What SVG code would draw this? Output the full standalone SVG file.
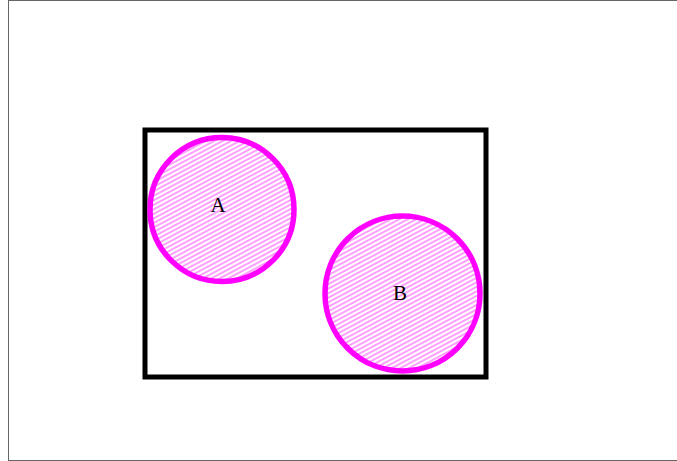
<svg xmlns="http://www.w3.org/2000/svg" width="677" height="461" viewBox="0 0 677 461">
<style>
.lbl{font-family:"Liberation Serif","DejaVu Serif",serif;font-size:21px;fill:#000;text-anchor:middle}
.circ{fill:url(#hatch);stroke:#ff00ff;stroke-width:5.5}
</style>
<defs>
<pattern id="hatch" patternUnits="userSpaceOnUse" width="4" height="4" patternTransform="rotate(-28)">
<rect width="4" height="4" fill="#fff"/>
<line x1="0" y1="1" x2="4" y2="1" stroke="#ff00ff" stroke-width="1" stroke-opacity="0.75"/>
</pattern>
</defs>
<rect x="8.5" y="0.5" width="700" height="460" fill="#fff" stroke="#666" stroke-width="1"/>
<g id="box"><rect x="145" y="130" width="341" height="247" fill="none" stroke="#000" stroke-width="5"/></g>
<g id="nodeA"><circle class="circ" cx="222" cy="209.5" r="72"/><text class="lbl" x="218" y="212">A</text></g>
<g id="nodeB"><circle class="circ" cx="402.5" cy="293.5" r="77.5"/><text class="lbl" x="400" y="300">B</text></g>
<g id="connectors"></g>
</svg>
